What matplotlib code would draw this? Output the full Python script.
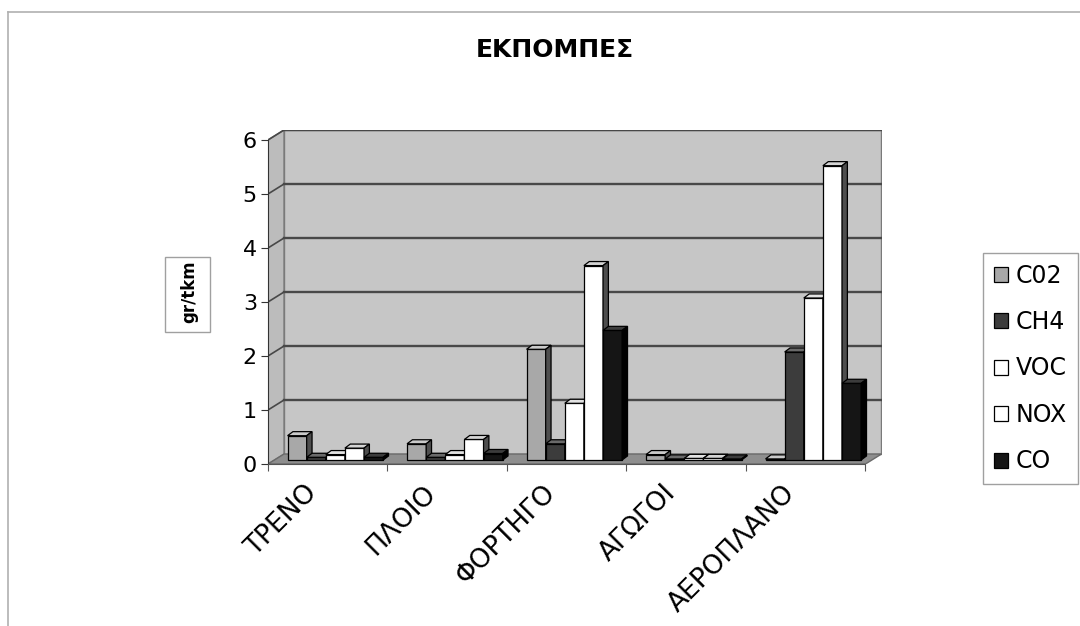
import matplotlib
matplotlib.use('Agg')
import matplotlib.pyplot as plt
from matplotlib.patches import Polygon, Rectangle
from matplotlib.lines import Line2D

categories = ['ΤΡΕΝΟ', 'ΠΛΟΙΟ', 'ΦΟΡΤΗΓΟ', 'ΑΓΩΓΟΙ', 'ΑΕΡΟΠΛΑΝΟ']
series = ['C02', 'CH4', 'VOC', 'NOX', 'CO']
co2 = [0.45, 0.30, 2.05, 0.10, 0.02]
ch4 = [0.05, 0.05, 0.30, 0.02, 2.00]
voc = [0.10, 0.10, 1.05, 0.03, 3.00]
nox = [0.22, 0.38, 3.60, 0.03, 5.45]
co = [0.05, 0.12, 2.40, 0.02, 1.42]
values = [co2, ch4, voc, nox, co]
yticks = [0, 1, 2, 3, 4, 5, 6]

front_colors = ['#a8a8a8', '#3c3c3c', '#ffffff', '#ffffff', '#151515']
side_colors = ['#4e4e4e', '#222222', '#6c6c6c', '#4e4e4e', '#000000']
top_colors = ['#cacaca', '#6a6a6a', '#e2e2e2', '#d4d4d4', '#3c3c3c']

# fake 3d depth (data units)
DX, DY = 0.134, 0.185
SX, SY = DX * 0.4, DY * 0.4
BX, BY = 0.045, 0.075
W = 0.16
YMAX = 6

plt.rcParams['font.family'] = ['DejaVu Sans']

fig = plt.figure(figsize=(10.8, 6.26), dpi=100)
fig.patch.set_facecolor('white')
ax = fig.add_axes([268 / 1080, 162 / 626, 613.5 / 1080, 334 / 626])
ax.set_xlim(-0.5, 4.5 + DX)
ax.set_ylim(0, YMAX + DY)
ax.patch.set_visible(False)

# walls and floor
ax.add_patch(Polygon([(-0.5 + DX, DY), (4.5 + DX, DY), (4.5 + DX, YMAX + DY), (-0.5 + DX, YMAX + DY)],
                     closed=True, facecolor='#c6c6c6', edgecolor='#7a7a7a', lw=1, zorder=0))
ax.add_patch(Polygon([(-0.5, 0), (-0.5 + DX, DY), (-0.5 + DX, YMAX + DY), (-0.5, YMAX)],
                     closed=True, facecolor='#bcbcbc', edgecolor='#7a7a7a', lw=1, zorder=0))
ax.add_patch(Polygon([(-0.5, 0), (4.5, 0), (4.5 + DX, DY), (-0.5 + DX, DY)],
                     closed=True, facecolor='#8e8e8e', edgecolor='#6a6a6a', lw=1, zorder=1))
for k in yticks[1:]:
    ax.plot([-0.5 + DX, 4.5 + DX], [k + DY, k + DY], color='#484848', lw=1.7, zorder=1)
    ax.plot([-0.5, -0.5 + DX], [k, k + DY], color='#484848', lw=1.2, zorder=1)

# bars
for j, (name, vals) in enumerate(zip(series, values)):
    xs = [i - 0.5 + 0.11 + SX + j * W for i in range(len(categories))]
    z = 3 + 2 * j
    bars = ax.bar(xs, vals, width=W, bottom=SY, align='edge', color=front_colors[j],
                  edgecolor='black', lw=0.9, zorder=z, label=name)
    for b in bars:
        x0, w, h = b.get_x(), b.get_width(), b.get_height()
        top = SY + h
        ax.add_patch(Polygon([(x0, top), (x0 + w, top), (x0 + w + BX, top + BY), (x0 + BX, top + BY)],
                             closed=True, facecolor=top_colors[j], edgecolor='black', lw=0.9, zorder=z + 0.5))
        ax.add_patch(Polygon([(x0 + w, SY), (x0 + w + BX, SY + BY), (x0 + w + BX, top + BY), (x0 + w, top)],
                             closed=True, facecolor=side_colors[j], edgecolor='black', lw=0.9, zorder=z + 0.5))

# axes
for s in ['top', 'right']:
    ax.spines[s].set_visible(False)
ax.spines['left'].set_bounds(0, YMAX)
ax.spines['left'].set_color('#333333')
ax.spines['bottom'].set_bounds(-0.5, 4.5)
ax.spines['bottom'].set_color('#555555')
ax.set_yticks(yticks)
ax.tick_params(axis='y', length=5, pad=3, labelsize=16, colors='#333333', labelcolor='black')
ax.set_xticks([i - 0.5 for i in range(len(categories) + 1)])
ax.set_xticklabels([])
ax.tick_params(axis='x', length=5, colors='#555555')
for i, c in enumerate(categories):
    ax.text(i - 0.2, -0.3, c, rotation=45, rotation_mode='anchor', ha='right', va='top',
            fontsize=19, clip_on=False)

# title, y label box
fig.text(555 / 1080, 1 - 50 / 626, 'ΕΚΠΟΜΠΕΣ', ha='center', va='center', fontsize=18, fontweight='bold')
fig.add_artist(Rectangle((165 / 1080, 1 - 332 / 626), 45 / 1080, 75 / 626, transform=fig.transFigure,
                         fill=False, edgecolor='#a0a0a0', lw=1))
fig.text(189 / 1080, 1 - 292 / 626, 'gr/tkm', rotation=90, ha='center', va='center',
         fontsize=12, fontweight='bold')

# legend
handles = [Rectangle((0, 0), 1, 1, facecolor=front_colors[j], edgecolor='black', lw=0.9)
           for j in range(len(series))]
leg = fig.legend(handles, series, loc='upper left', bbox_to_anchor=(983 / 1080, 1 - 253 / 626),
                 fontsize=17, frameon=True, fancybox=False, handlelength=0.6, handleheight=0.6,
                 handletextpad=0.35, labelspacing=0.95, borderpad=0.45, borderaxespad=0)
leg.get_frame().set_edgecolor('#888888')
leg.get_frame().set_linewidth(1)

# outer chart border
fig.add_artist(Line2D([8 / 1080, 1], [1 - 12 / 626, 1 - 12 / 626], transform=fig.transFigure,
                      color='#b0b0b0', lw=1.2))
fig.add_artist(Line2D([8 / 1080, 8 / 1080], [0, 1 - 12 / 626], transform=fig.transFigure,
                      color='#b0b0b0', lw=1.2))

fig.savefig('out.png', dpi=100)
